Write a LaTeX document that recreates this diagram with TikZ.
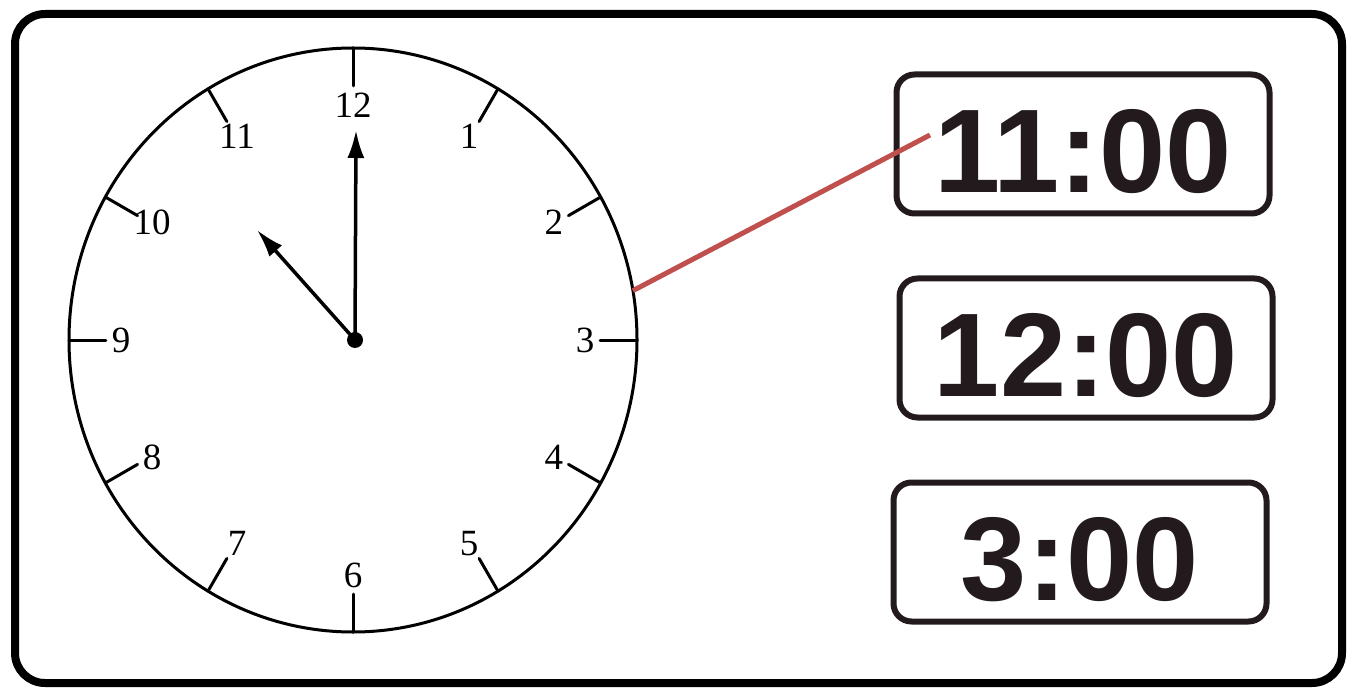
\documentclass[tikz,border=0pt]{standalone}
\usepackage{fontspec}
\setmainfont{Liberation Serif}
\newfontfamily\timefont{Liberation Sans}
\usetikzlibrary{shapes.geometric,arrows.meta,calc}
\definecolor{linkred}{HTML}{C0504D}
\definecolor{ink}{HTML}{221A1C}
\tikzset{
  clocktick/.style={line width=3pt},
  hand/.style={line width=3.5pt,-{Latex[length=28pt,width=17pt]}},
  hour/.style={font=\fontsize{37}{37}\selectfont,inner sep=0pt},
  timebox/.style={draw=ink,line width=6pt,rounded corners=18pt,minimum width=373pt,minimum height=139pt,
    inner sep=0pt,text=ink,text height=98pt,font=\timefont\bfseries\fontsize{119}{119}\selectfont},
}
\begin{document}
\begin{tikzpicture}[x=1pt, y=1pt, line cap=round, line join=round]
    \useasboundingbox (0,0) rectangle (1348,689);
    \draw[line width=8pt,rounded corners=30pt] (15,6) rectangle (1342,675);
    % clock face
    \node[draw,ellipse,line width=3pt,outer sep=0pt,inner sep=0pt,minimum width=568pt,minimum height=584pt] (clock) at (353,349) {};
    \foreach \h in {1,...,12} {
      \pgfmathtruncatemacro\a{90-30*\h}
      \draw[clocktick] ($(clock.\a)!0.13!(clock.center)$) -- (clock.\a);
      \node[hour] (h\h) at ($(clock.center)+(\a:232 and 235)$) {\h};
    }
    \node[circle,fill,inner sep=0pt,minimum size=16pt] (hub) at (355,349) {};
    \coordinate (minute) at (356,559);
    \coordinate (hourtip) at (257,459);
    \draw[hand] (hub.center) -- (minute);
    \draw[hand] (hub.center) -- (hourtip);
    % answers
    \node[timebox] (t11) at (1083,545) {11:00};
    \node[timebox] (t12) at (1086,341) {12:00};
    \node[timebox] (t3) at (1080,137) {3:00};
    \coordinate (pin) at (930,554);
    \draw[linkred,line width=5pt,line cap=butt] (clock.10) -- (pin);
  \end{tikzpicture}
\end{document}
